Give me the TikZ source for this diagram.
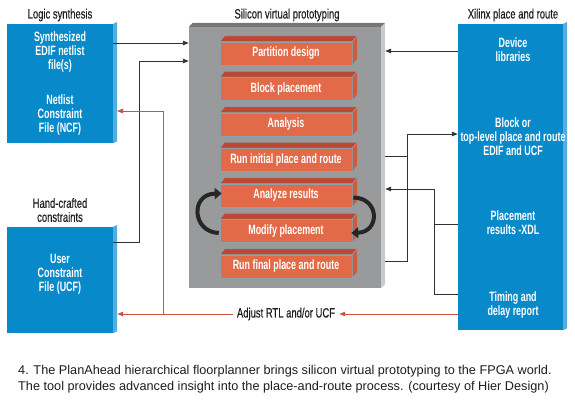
\documentclass[tikz,border=0pt]{standalone}
\usepackage{fontspec}
\setmainfont{Liberation Sans}
\newfontfamily\condreg[FakeStretch=0.7,FakeBold=0.3]{Liberation Sans}
\newfontfamily\condbold[FakeStretch=0.66]{Liberation Sans Bold}
\usetikzlibrary{arrows.meta}
\definecolor{bfront}{RGB}{8,138,202}
\definecolor{bside}{RGB}{85,172,225}
\definecolor{gfront}{RGB}{153,154,156}
\definecolor{gside}{RGB}{203,203,203}
\definecolor{gtop}{RGB}{118,118,120}
\definecolor{ofront}{RGB}{226,106,72}
\definecolor{otop}{RGB}{188,72,52}
\definecolor{oside}{RGB}{208,90,62}
\definecolor{oglow}{RGB}{140,162,172}
\definecolor{redl}{RGB}{200,85,60}
\definecolor{lined}{RGB}{50,50,50}
\definecolor{txtd}{RGB}{30,30,30}
\tikzset{
  hdr/.style={font=\condreg\fontsize{13.5}{14}\selectfont, text=txtd, align=center, inner sep=0pt},
  wlab/.style={font=\condbold\fontsize{13.5}{14}\selectfont, text=white, align=center, inner sep=0pt},
  bluebox/.style={fill=bfront, inner sep=0pt},
  graybox/.style={fill=gfront, inner sep=0pt},
  orangebox/.style={fill=ofront, draw=oglow, line width=0.6pt, inner sep=0pt, minimum width=132pt, minimum height=23pt,
     font=\condbold\fontsize{13.5}{14}\selectfont, text=white},
  blk/.style={draw=lined, line width=0.9pt, -{Triangle[length=6pt,width=4.5pt]}},
  blkplain/.style={draw=lined, line width=0.9pt},
  redarr/.style={draw=redl, line width=0.9pt, -{Triangle[length=6pt,width=4.5pt]}},
  redplain/.style={draw=redl, line width=0.9pt},
  cyc/.style={draw=black!85, line width=4pt, -{Triangle[length=7pt,width=11pt]}},
  caption/.style={font=\fontsize{12.7}{15}\selectfont, text=txtd, inner sep=0pt, anchor=base west}
}
\newcommand\mybluesides[1]{%
  \fill[bside] (#1.north east) -- ([shift={(4,-2)}]#1.north east) -- ([shift={(4,-2)}]#1.south east) -- (#1.south east) -- cycle;}
\newcommand\mygraysides[1]{%
  \fill[gtop] (#1.north west) -- ([shift={(4,-4)}]#1.north west) -- ([shift={(4,-4)}]#1.north east) -- (#1.north east) -- cycle;
  \fill[gside] (#1.north east) -- ([shift={(4,-4)}]#1.north east) -- ([shift={(4,-4)}]#1.south east) -- (#1.south east) -- cycle;}
\newcommand\myorangesides[1]{%
  \filldraw[fill=otop, draw=oglow, line width=0.6pt] (#1.north west) -- ([shift={(5,-6)}]#1.north west) -- ([shift={(5,-6)}]#1.north east) -- (#1.north east) -- cycle;
  \filldraw[fill=oside, draw=oglow, line width=0.6pt] (#1.north east) -- ([shift={(5,-6)}]#1.north east) -- ([shift={(5,-6)}]#1.south east) -- (#1.south east) -- cycle;}
\begin{document}
\begin{tikzpicture}[x=1pt, y=-1pt]
\useasboundingbox[fill=white] (0,0) rectangle (575,413);
% headings
\node[hdr] (hls) at (60,15) {Logic synthesis};
\node[hdr] (hsvp) at (287,15) {Silicon virtual prototyping};
\node[hdr] (hxil) at (513,15) {Xilinx place and route};
\node[hdr] (hhc) at (60,210) {Hand-crafted\\constraints};
% blue boxes
\node[bluebox, minimum width=106pt, minimum height=119pt] (ls) at (60,83.5) {};
\mybluesides{ls}
\node[bluebox, minimum width=106pt, minimum height=106pt] (ucfb) at (60,280) {};
\mybluesides{ucfb}
\node[bluebox, minimum width=105pt, minimum height=306pt] (xil) at (510.5,177) {};
\mybluesides{xil}
\node[wlab] (edif) at (60,52) {Synthesized\\EDIF netlist\\file(s)};
\node[wlab] (ncf) at (60,115) {Netlist\\Constraint\\File (NCF)};
\node[wlab] (ucf) at (60,274) {User\\Constraint\\File (UCF)};
\node[wlab] (dev) at (513,50) {Device\\libraries};
\node[wlab] (blk) at (513,137) {Block or\\top-level place and route\\EDIF and UCF};
\node[wlab] (plc) at (513,223) {Placement\\results -XDL};
\node[wlab] (tim) at (513,305) {Timing and\\delay report};
% gray box
\node[graybox, minimum width=192pt, minimum height=261pt] (svp) at (285,157.5) {};
\mygraysides{svp}
% orange steps
\node[orangebox] (o1) at (286,53.5) {Partition design};
\node[orangebox] (o2) at (286,89) {Block placement};
\node[orangebox] (o3) at (286,124.5) {Analysis};
\node[orangebox] (o4) at (286,160) {Run initial place and route};
\node[orangebox] (o5) at (286,195.5) {Analyze results};
\node[orangebox] (o6) at (286,231) {Modify placement};
\node[orangebox] (o7) at (286,266.5) {Run final place and route};
\foreach \n in {o1,o2,o3,o4,o5,o6,o7}{\myorangesides{\n}}
% cycle arrows
\draw[cyc] ([shift={(-1,2)}]o6.west) .. controls (192,232) and (190,194) .. ([shift={(2,-2)}]o5.west);
\draw[cyc] ([shift={(1,2)}]o5.east) .. controls (380,198) and (380,232) .. ([shift={(-1,2)}]o6.east);
% left connectors
\coordinate (pA) at (113,43);
\draw[blk] (pA) -- (svp.west |- pA);
\coordinate (pB) at (113,242);
\coordinate (jB) at (139,61);
\draw[blk] (pB) -| (jB) -- (svp.west |- jB);
% red feedback
\node[hdr, inner xsep=4pt] (adj) at (286,314) {Adjust RTL and/or UCF};
\draw[redarr] (xil.west |- adj) -- (adj.east);
\coordinate (jR) at (163,314);
\coordinate (pN) at (117,111);
\draw[redarr] (adj.west) -- ([xshift=4pt]ucfb.east |- adj);
\draw[redarr] (jR) |- (pN);
% right connectors
\coordinate (pD) at (458,51);
\draw[blk] (pD) -- ([xshift=4pt]svp.east |- pD);
\coordinate (pE1) at (385,156);
\coordinate (pE2) at (385,261);
\coordinate (jE) at (407,134);
\draw[blkplain] (pE1) -- (jE |- pE1);
\draw[blk] (pE2) -| (jE) -- (xil.west |- jE);
\coordinate (pF1) at (458,224);
\coordinate (pF2) at (458,294);
\coordinate (jF) at (434,189);
\draw[blkplain] (pF1) -| (jF);
\draw[blk] (pF2) -| (jF) -- ([xshift=4pt]svp.east |- jF);
% caption
\node[caption] (cap1) at (18,374) {4. The PlanAhead hierarchical floorplanner brings silicon virtual prototyping to the FPGA world.};
\node[caption] (cap2) at (18,390) {The tool provides advanced insight into the place-and-route process. (courtesy of Hier Design)};
\end{tikzpicture}
\end{document}
